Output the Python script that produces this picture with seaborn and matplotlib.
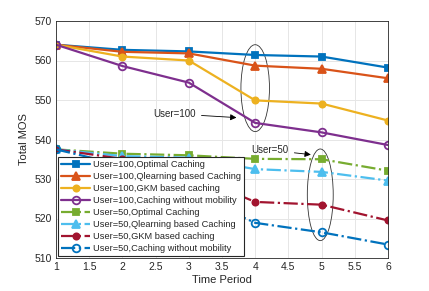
import matplotlib
matplotlib.use('Agg')
import matplotlib.pyplot as plt
from matplotlib.patches import Ellipse
import seaborn as sns

# time periods on the x axis
periods = [1, 2, 3, 4, 5, 6]

# User=100 series
u100_optimal = [564.0, 562.7, 562.3, 561.4, 561.0, 558.2]
u100_qlearn = [564.0, 562.2, 561.8, 558.7, 557.9, 555.5]
u100_gkm = [564.0, 561.0, 560.0, 549.9, 549.1, 544.8]
u100_nomob = [564.0, 558.6, 554.4, 544.2, 541.8, 538.6]

# User=50 series
u50_optimal = [537.5, 536.4, 536.0, 535.1, 535.0, 532.1]
u50_qlearn = [537.5, 535.8, 535.4, 532.5, 531.8, 529.6]
u50_gkm = [537.5, 535.1, 531.2, 524.2, 523.5, 519.5]
u50_nomob = [537.5, 533.5, 526.5, 518.9, 516.5, 513.4]

labels = ['User=100,Optimal Caching', 'User=100,Qlearning based Caching',
          'User=100,GKM based caching', 'User=100,Caching without mobility',
          'User=50,Optimal Caching', 'User=50,Qlearning based Caching',
          'User=50,GKM based caching', 'User=50,Caching without mobility']
series = [u100_optimal, u100_qlearn, u100_gkm, u100_nomob,
          u50_optimal, u50_qlearn, u50_gkm, u50_nomob]

colors = ['#0072BD', '#D95319', '#EDB120', '#7E2F8E',
          '#77AC30', '#4DBEEE', '#A2142F', '#0072BD']
markers = ['s', '^', 'o', 'o', 's', '^', 'o', 'o']
sizes = [4.5, 6, 4.5, 5.5, 4.5, 6, 4.5, 5.5]
styles = ['-'] * 4 + ['-.'] * 4
open_marker = [False, False, False, True, False, False, False, True]

sns.set_style('whitegrid')
plt.rcParams['font.family'] = ['Liberation Sans', 'DejaVu Sans']

fig = plt.figure(figsize=(4.29, 2.91), dpi=100)
ax = fig.add_axes([56 / 429, 1 - 258 / 291, (388 - 56) / 429, (258 - 21) / 291])

for vals, lab, c, m, ms, ls, op in zip(series, labels, colors, markers, sizes, styles, open_marker):
    sns.lineplot(x=periods, y=vals, ax=ax, color=c, marker=m, markersize=ms,
                 linestyle=ls, linewidth=1.6, label=lab,
                 markerfacecolor='none' if op else c,
                 markeredgecolor=c, markeredgewidth=1.3)

ax.set_xlim(1, 6)
ax.set_ylim(510, 570)
ax.set_xticks([1, 1.5, 2, 2.5, 3, 3.5, 4, 4.5, 5, 5.5, 6])
ax.set_xticklabels(['1', '1.5', '2', '2.5', '3', '3.5', '4', '4.5', '5', '5.5', '6'])
ax.set_yticks([510, 520, 530, 540, 550, 560, 570])
ax.tick_params(labelsize=7.5, colors='#262626', direction='in', length=3, pad=3)
ax.set_xlabel('Time Period', fontsize=8, color='#262626', labelpad=2)
ax.set_ylabel('Total MOS', fontsize=8, color='#262626', labelpad=4)
ax.grid(True, color='#e6e6e6', linewidth=0.7)
for sp in ax.spines.values():
    sp.set_color('#262626')
    sp.set_linewidth(0.6)

leg = ax.legend(loc='lower left', fontsize=6.7, frameon=True, fancybox=False,
                edgecolor='#262626', framealpha=1, borderpad=0.3, labelspacing=0.33,
                handlelength=3.2, handletextpad=0.3, borderaxespad=0.2)
leg.get_frame().set_linewidth(0.8)

# ellipses and labels
ax.add_patch(Ellipse((4.0, 553), 0.43, 22, fill=False, edgecolor='#333333', linewidth=0.6))
ax.add_patch(Ellipse((4.98, 526), 0.39, 23.2, fill=False, edgecolor='#333333', linewidth=0.6))
ax.annotate('User=100', xy=(3.76, 545.5), xytext=(2.46, 546.5), fontsize=7,
            va='center', color='#262626',
            arrowprops=dict(arrowstyle='-|>', color='black', linewidth=0.6, mutation_scale=9))
ax.annotate('User=50', xy=(4.88, 536.1), xytext=(3.94, 537.3), fontsize=7,
            va='center', color='#262626',
            arrowprops=dict(arrowstyle='-|>', color='black', linewidth=0.6, mutation_scale=9))

plt.savefig('out.png', dpi=100)
